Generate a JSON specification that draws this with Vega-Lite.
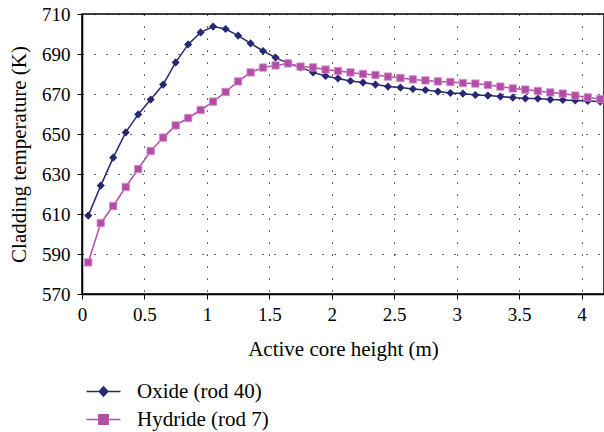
{
  "$schema": "https://vega.github.io/schema/vega-lite/v6.json",
  "width": 522,
  "height": 280,
  "autosize": {"type": "none"},
  "padding": {"left": 82, "top": 14, "right": 0, "bottom": 138},
  "background": "white",
  "config": {
    "font": "Liberation Serif",
    "view": {"stroke": "#000", "strokeWidth": 1.5},
    "axis": {
      "domainColor": "#000",
      "domainWidth": 1.5,
      "tickColor": "#000",
      "tickWidth": 1,
      "tickSize": 5,
      "gridColor": "#000",
      "gridWidth": 1,
      "gridDash": [1.2, 10.8]
    }
  },
  "data": {
    "values": [
      {"h": 0.05, "T": 609.2, "rod": "Oxide (rod 40)"},
      {"h": 0.15, "T": 624.2, "rod": "Oxide (rod 40)"},
      {"h": 0.25, "T": 638.2, "rod": "Oxide (rod 40)"},
      {"h": 0.35, "T": 650.8, "rod": "Oxide (rod 40)"},
      {"h": 0.45, "T": 659.8, "rod": "Oxide (rod 40)"},
      {"h": 0.55, "T": 667.2, "rod": "Oxide (rod 40)"},
      {"h": 0.65, "T": 674.7, "rod": "Oxide (rod 40)"},
      {"h": 0.75, "T": 685.8, "rod": "Oxide (rod 40)"},
      {"h": 0.85, "T": 694.8, "rod": "Oxide (rod 40)"},
      {"h": 0.95, "T": 700.8, "rod": "Oxide (rod 40)"},
      {"h": 1.05, "T": 703.7, "rod": "Oxide (rod 40)"},
      {"h": 1.15, "T": 702.5, "rod": "Oxide (rod 40)"},
      {"h": 1.25, "T": 699.2, "rod": "Oxide (rod 40)"},
      {"h": 1.35, "T": 695.3, "rod": "Oxide (rod 40)"},
      {"h": 1.45, "T": 691.5, "rod": "Oxide (rod 40)"},
      {"h": 1.55, "T": 688.2, "rod": "Oxide (rod 40)"},
      {"h": 1.65, "T": 685.3, "rod": "Oxide (rod 40)"},
      {"h": 1.75, "T": 683.3, "rod": "Oxide (rod 40)"},
      {"h": 1.85, "T": 680.8, "rod": "Oxide (rod 40)"},
      {"h": 1.95, "T": 679.0, "rod": "Oxide (rod 40)"},
      {"h": 2.05, "T": 677.8, "rod": "Oxide (rod 40)"},
      {"h": 2.15, "T": 676.5, "rod": "Oxide (rod 40)"},
      {"h": 2.25, "T": 675.7, "rod": "Oxide (rod 40)"},
      {"h": 2.35, "T": 674.7, "rod": "Oxide (rod 40)"},
      {"h": 2.45, "T": 673.7, "rod": "Oxide (rod 40)"},
      {"h": 2.55, "T": 673.2, "rod": "Oxide (rod 40)"},
      {"h": 2.65, "T": 672.5, "rod": "Oxide (rod 40)"},
      {"h": 2.75, "T": 672.0, "rod": "Oxide (rod 40)"},
      {"h": 2.85, "T": 671.2, "rod": "Oxide (rod 40)"},
      {"h": 2.95, "T": 670.5, "rod": "Oxide (rod 40)"},
      {"h": 3.05, "T": 670.2, "rod": "Oxide (rod 40)"},
      {"h": 3.15, "T": 669.5, "rod": "Oxide (rod 40)"},
      {"h": 3.25, "T": 669.2, "rod": "Oxide (rod 40)"},
      {"h": 3.35, "T": 668.7, "rod": "Oxide (rod 40)"},
      {"h": 3.45, "T": 668.2, "rod": "Oxide (rod 40)"},
      {"h": 3.55, "T": 667.8, "rod": "Oxide (rod 40)"},
      {"h": 3.65, "T": 667.7, "rod": "Oxide (rod 40)"},
      {"h": 3.75, "T": 667.2, "rod": "Oxide (rod 40)"},
      {"h": 3.85, "T": 667.0, "rod": "Oxide (rod 40)"},
      {"h": 3.95, "T": 666.8, "rod": "Oxide (rod 40)"},
      {"h": 4.05, "T": 666.5, "rod": "Oxide (rod 40)"},
      {"h": 4.15, "T": 666.2, "rod": "Oxide (rod 40)"},
      {"h": 0.05, "T": 585.8, "rod": "Hydride (rod 7)"},
      {"h": 0.15, "T": 605.5, "rod": "Hydride (rod 7)"},
      {"h": 0.25, "T": 614.0, "rod": "Hydride (rod 7)"},
      {"h": 0.35, "T": 623.5, "rod": "Hydride (rod 7)"},
      {"h": 0.45, "T": 632.5, "rod": "Hydride (rod 7)"},
      {"h": 0.55, "T": 641.5, "rod": "Hydride (rod 7)"},
      {"h": 0.65, "T": 648.2, "rod": "Hydride (rod 7)"},
      {"h": 0.75, "T": 654.3, "rod": "Hydride (rod 7)"},
      {"h": 0.85, "T": 658.0, "rod": "Hydride (rod 7)"},
      {"h": 0.95, "T": 662.0, "rod": "Hydride (rod 7)"},
      {"h": 1.05, "T": 666.2, "rod": "Hydride (rod 7)"},
      {"h": 1.15, "T": 671.0, "rod": "Hydride (rod 7)"},
      {"h": 1.25, "T": 676.3, "rod": "Hydride (rod 7)"},
      {"h": 1.35, "T": 680.8, "rod": "Hydride (rod 7)"},
      {"h": 1.45, "T": 683.2, "rod": "Hydride (rod 7)"},
      {"h": 1.55, "T": 684.3, "rod": "Hydride (rod 7)"},
      {"h": 1.65, "T": 685.3, "rod": "Hydride (rod 7)"},
      {"h": 1.75, "T": 683.7, "rod": "Hydride (rod 7)"},
      {"h": 1.85, "T": 683.3, "rod": "Hydride (rod 7)"},
      {"h": 1.95, "T": 682.2, "rod": "Hydride (rod 7)"},
      {"h": 2.05, "T": 681.5, "rod": "Hydride (rod 7)"},
      {"h": 2.15, "T": 680.8, "rod": "Hydride (rod 7)"},
      {"h": 2.25, "T": 680.0, "rod": "Hydride (rod 7)"},
      {"h": 2.35, "T": 679.5, "rod": "Hydride (rod 7)"},
      {"h": 2.45, "T": 678.7, "rod": "Hydride (rod 7)"},
      {"h": 2.55, "T": 678.0, "rod": "Hydride (rod 7)"},
      {"h": 2.65, "T": 677.3, "rod": "Hydride (rod 7)"},
      {"h": 2.75, "T": 676.8, "rod": "Hydride (rod 7)"},
      {"h": 2.85, "T": 676.3, "rod": "Hydride (rod 7)"},
      {"h": 2.95, "T": 676.0, "rod": "Hydride (rod 7)"},
      {"h": 3.05, "T": 675.5, "rod": "Hydride (rod 7)"},
      {"h": 3.15, "T": 675.2, "rod": "Hydride (rod 7)"},
      {"h": 3.25, "T": 674.5, "rod": "Hydride (rod 7)"},
      {"h": 3.35, "T": 673.7, "rod": "Hydride (rod 7)"},
      {"h": 3.45, "T": 672.8, "rod": "Hydride (rod 7)"},
      {"h": 3.55, "T": 672.2, "rod": "Hydride (rod 7)"},
      {"h": 3.65, "T": 671.5, "rod": "Hydride (rod 7)"},
      {"h": 3.75, "T": 670.8, "rod": "Hydride (rod 7)"},
      {"h": 3.85, "T": 670.2, "rod": "Hydride (rod 7)"},
      {"h": 3.95, "T": 669.2, "rod": "Hydride (rod 7)"},
      {"h": 4.05, "T": 668.3, "rod": "Hydride (rod 7)"},
      {"h": 4.15, "T": 667.5, "rod": "Hydride (rod 7)"}
    ]
  },
  "encoding": {
    "x": {
      "field": "h",
      "type": "quantitative",
      "title": "Active core height (m)",
      "scale": {"domain": [0, 4.18], "nice": false, "zero": false},
      "axis": {
        "values": [0, 0.5, 1, 1.5, 2, 2.5, 3, 3.5, 4],
        "format": "~g",
        "labelFont": "Liberation Serif",
        "labelFontSize": 19,
        "labelColor": "#000",
        "titleFont": "Liberation Serif",
        "titleFontSize": 21,
        "titleFontWeight": "normal",
        "titleColor": "#000",
        "labelPadding": 6,
        "titlePadding": 14,
        "labelFlush": false,
        "labelOverlap": false
      }
    },
    "y": {
      "field": "T",
      "type": "quantitative",
      "title": "Cladding temperature (K)",
      "scale": {"domain": [570, 710], "nice": false, "zero": false},
      "axis": {
        "values": [570, 590, 610, 630, 650, 670, 690, 710],
        "labelFont": "Liberation Serif",
        "labelFontSize": 19,
        "labelColor": "#000",
        "titleFont": "Liberation Serif",
        "titleFontSize": 21,
        "titleFontWeight": "normal",
        "titleColor": "#000",
        "labelPadding": 7,
        "titlePadding": 12,
        "labelFlush": false,
        "labelOverlap": false
      }
    },
    "color": {
      "field": "rod",
      "type": "nominal",
      "scale": {"domain": ["Oxide (rod 40)", "Hydride (rod 7)"], "range": ["#272772", "#b24ea6"]}
    }
  },
  "layer": [
    {
      "mark": {"type": "line", "strokeWidth": 1.5}
    },
    {
      "transform": [{"filter": "datum.rod === 'Oxide (rod 40)'"}],
      "mark": {"type": "point", "shape": "diamond", "filled": true, "size": 66, "opacity": 1}
    },
    {
      "transform": [{"filter": "datum.rod === 'Hydride (rod 7)'"}],
      "mark": {"type": "point", "shape": "square", "filled": true, "size": 55, "opacity": 1, "stroke": "#d58fcb", "strokeWidth": 0.8}
    },
    {
      "mark": {"type": "point", "filled": true, "opacity": 0, "size": 289},
      "encoding": {
        "shape": {
          "field": "rod",
          "type": "nominal",
          "scale": {
            "domain": ["Oxide (rod 40)", "Hydride (rod 7)"],
            "range": ["M-2,0H2M0,-0.55L0.5,0L0,0.55L-0.5,0Z", "M-2,0H2M-0.55,-0.55H0.55V0.55H-0.55Z"]
          },
          "legend": {
            "title": null,
            "orient": "none",
            "legendX": 11,
            "legendY": 367,
            "padding": 0,
            "rowPadding": 6,
            "labelOffset": 23,
            "labelFont": "Liberation Serif",
            "labelFontSize": 21,
            "labelColor": "#000",
            "symbolSize": 289,
            "symbolStrokeWidth": 1.5,
            "encode": {
              "symbols": {
                "update": {
                  "stroke": {"scale": "color", "field": "value"},
                  "fill": {"scale": "color", "field": "value"},
                  "strokeWidth": {"value": 1.5},
                  "opacity": {"value": 1},
                  "fillOpacity": {"value": 1},
                  "strokeOpacity": {"value": 1}
                }
              }
            }
          }
        }
      }
    }
  ]
}
